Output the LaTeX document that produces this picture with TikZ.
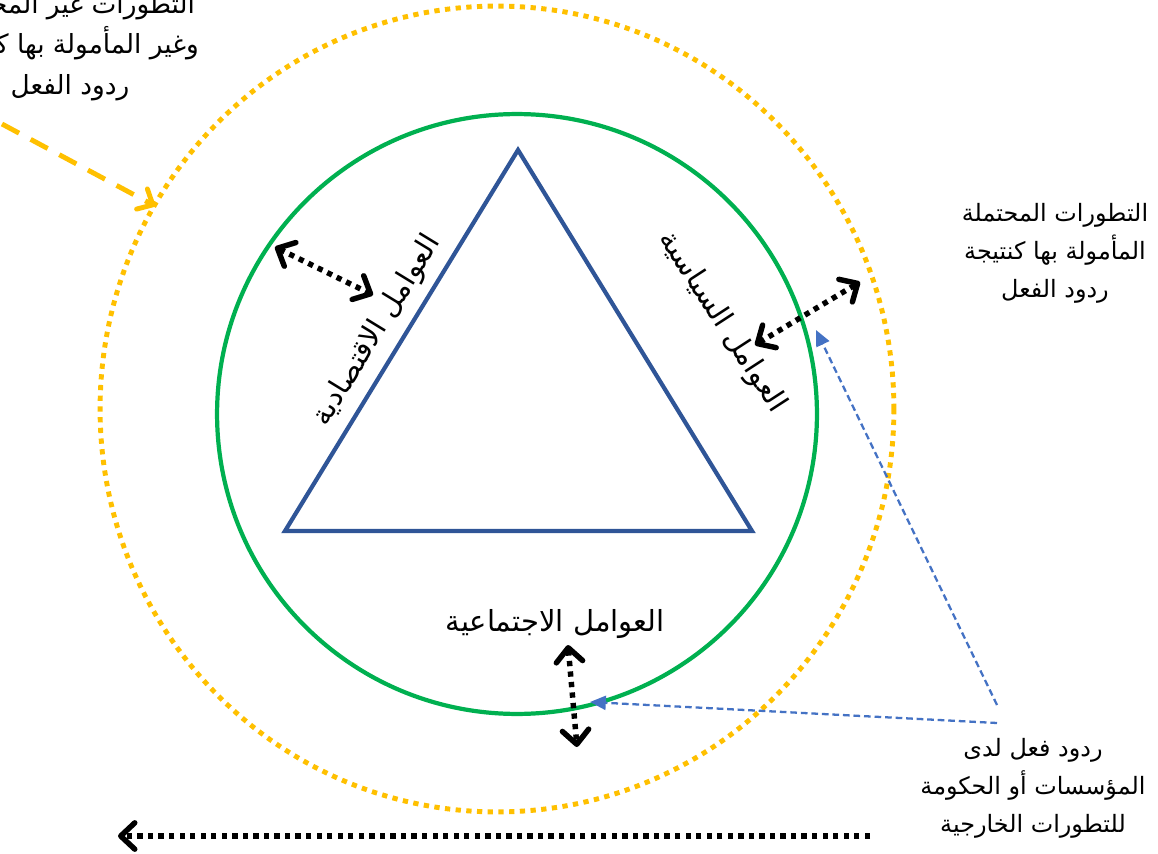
\documentclass[tikz,border=0pt]{standalone}
\usepackage{fontspec}
\newfontfamily\arabicfont[Script=Arabic]{DejaVu Sans}
\TeXXeTstate=1
\usepackage{xcolor}
\usetikzlibrary{arrows.meta,shapes.geometric}

\definecolor{ringyellow}{HTML}{FFC000}
\definecolor{ringgreen}{HTML}{00B050}
\definecolor{triblue}{HTML}{2F5597}
\definecolor{noteblue}{HTML}{4472C4}

\tikzset{
	arlabel/.style={font=\arabicfont\fontsize{16.5}{20}\selectfont, inner sep=0pt},
	arnote/.style={align=center, inner sep=0pt, font=\arabicfont\fontsize{13.6}{21.6}\selectfont},
	dotlink/.style={line width=3.1pt, dash pattern=on 3pt off 3pt,
		arrows={Straight Barb[length=8pt,width=15pt,round]-Straight Barb[length=8pt,width=15pt,round]}},
	noteline/.style={noteblue, line width=1.3pt, dash pattern=on 3.8pt off 2.2pt,
		-{Triangle[length=9pt,width=8pt]}},
}

\begin{document}
\begin{tikzpicture}[x=0.02cm, y=-0.02cm]
	\useasboundingbox (0,0) rectangle (1158,854);
	% rings
	\node[ellipse, draw=ringyellow, line width=2.8pt, dash pattern=on 3pt off 3.1pt,
	minimum width=15.88cm, minimum height=16.12cm, inner sep=0pt] (outer) at (497,409) {};
	\node[circle, draw=ringgreen, line width=2.4pt,
	minimum size=12cm, inner sep=0pt] (inner) at (517,414) {};
	% triangle
	\coordinate (apex) at (518,150);
	\coordinate (baseL) at (285,531);
	\coordinate (baseR) at (752,531);
	\draw[triblue, line width=2.4pt] (apex) -- (baseL) -- (baseR) -- cycle;
	% factor labels
	\node[arlabel, rotate=58.5] (econ) at (377,331) {\beginR العوامل الاقتصادية\endR};
	\node[arlabel, rotate=-57] (polit) at (722,322) {\beginR العوامل السياسية\endR};
	\node[arlabel] (social) at (555,624) {\beginR العوامل الاجتماعية\endR};
	% notes
	\node[arnote, font=\arabicfont\fontsize{15}{23}\selectfont] (topnote) at (70,47) {\beginR التطورات غير المحتملة\endR\\\beginR وغير المأمولة بها كنتيجة\endR\\\beginR ردود الفعل\endR};
	\node[arnote] (rightnote) at (1055,253) {\beginR التطورات المحتملة\endR\\\beginR المأمولة بها كنتيجة\endR\\\beginR ردود الفعل\endR};
	\node[arnote] (reaction) at (1033,788) {\beginR ردود فعل لدى\endR\\\beginR المؤسسات أو الحكومة\endR\\\beginR للتطورات الخارجية\endR};
	% arrow ends
	\coordinate (econA) at (275,247);
	\coordinate (econB) at (373,295);
	\coordinate (politA) at (755,345);
	\coordinate (politB) at (860,282);
	\coordinate (socialA) at (568,645);
	\coordinate (socialB) at (577,747);
	\coordinate (flowR) at (870,836);
	\coordinate (flowL) at (118,836);
	\coordinate (yelA) at (2,124);
	\coordinate (yelB) at (155,206);
	\coordinate (noteA) at (997,705);
	\coordinate (noteB) at (997,723);
	\coordinate (hitP) at (816,330);
	\coordinate (hitS) at (590,702);
	% connectors
	\draw[dotlink] (econA) -- (econB);
	\draw[dotlink] (politA) -- (politB);
	\draw[dotlink] (socialA) -- (socialB);
	\draw[line width=3.1pt, dash pattern=on 3pt off 3pt,
	-{Straight Barb[length=8pt,width=15pt,round]}] (flowR) -- (flowL);
	\draw[ringyellow, line width=2.8pt, dash pattern=on 11pt off 7.5pt,
	-{Straight Barb[length=7pt,width=13pt,round]}] (yelA) -- (yelB);
	\draw[noteline] (noteA) -- (hitP);
	\draw[noteline] (noteB) -- (hitS);
\end{tikzpicture}
\end{document}
